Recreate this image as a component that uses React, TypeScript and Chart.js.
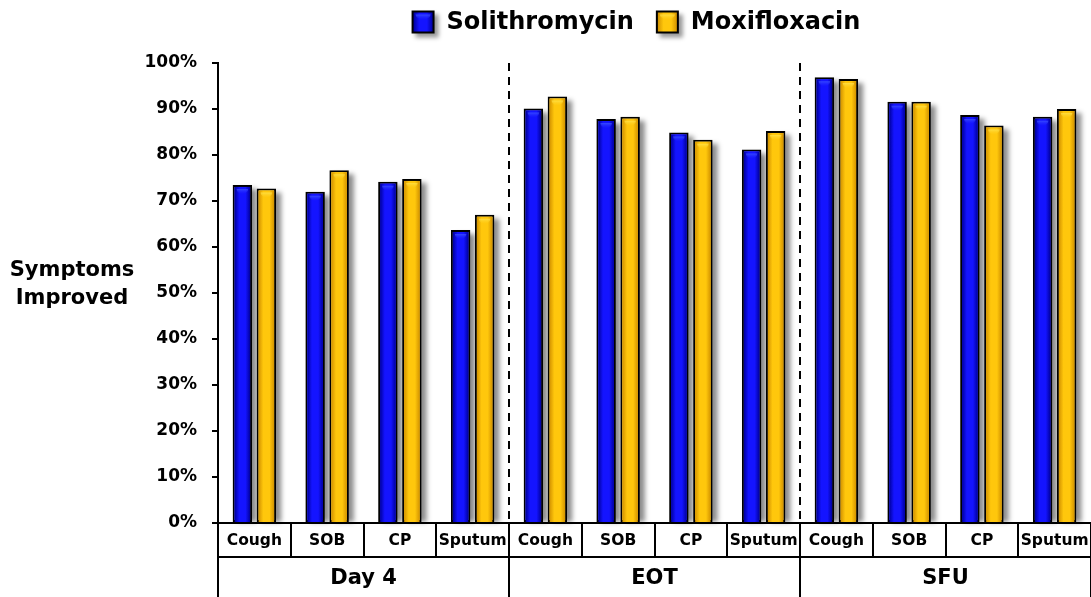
import React, { useEffect, useRef } from 'react';
import { Chart, registerables } from 'chart.js';

Chart.register(...registerables);

const categories = ['Cough', 'SOB', 'CP', 'Sputum', 'Cough', 'SOB', 'CP', 'Sputum', 'Cough', 'SOB', 'CP', 'Sputum'];
const groups = ['Day 4', 'EOT', 'SFU'];
const groupSize = 4;
const seriesNames = ['Solithromycin', 'Moxifloxacin'];
const solithromycin = [73.5, 72.0, 74.2, 63.7, 90.1, 87.8, 84.9, 81.2, 96.9, 91.6, 88.7, 88.3];
const moxifloxacin = [72.7, 76.7, 74.8, 67.0, 92.7, 88.3, 83.3, 85.2, 96.5, 91.6, 86.4, 90.0];
const yAxisTitle = ['Symptoms', 'Improved'];
const yMin = 0;
const yMax = 100;
const yStep = 10;

const FONT = '"DejaVu Sans", "Liberation Sans", sans-serif';

const palettes = [
  { base: '#0000f2', dark: '#0000a0', light: '#1414ff', hi: '#5070ff' },
  { base: '#ffc000', dark: '#d49400', light: '#ffc70c', hi: '#fff06a' },
];

function fillBarGradient(ctx: CanvasRenderingContext2D, l: number, t: number, w: number, h: number, p: any) {
  if (w <= 0 || h <= 0) return;
  const g = ctx.createLinearGradient(l, 0, l + w, 0);
  g.addColorStop(0, p.dark);
  g.addColorStop(0.3, p.light);
  g.addColorStop(0.7, p.light);
  g.addColorStop(1, p.dark);
  ctx.fillStyle = g;
  ctx.fillRect(l, t, w, h);
  // top bevel highlight
  const hg = ctx.createLinearGradient(0, t, 0, t + 8);
  hg.addColorStop(0, p.hi);
  hg.addColorStop(1, p.light + '00');
  ctx.fillStyle = hg;
  ctx.beginPath();
  ctx.ellipse(l + w / 2, t + 2, Math.max(w / 2 - 2, 1), 5, 0, 0, Math.PI);
  ctx.fill();
}

const shadowPlugin = {
  id: 'barShadow',
  beforeDatasetsDraw(chart: any) {
    const { ctx } = chart;
    ctx.save();
    ctx.filter = 'blur(2.5px)';
    ctx.fillStyle = 'rgba(0,0,0,0.45)';
    chart.data.datasets.forEach((_: any, di: number) => {
      const meta = chart.getDatasetMeta(di);
      meta.data.forEach((el: any) => {
        const { x, y, base, width } = el.getProps(['x', 'y', 'base', 'width'], true);
        ctx.fillRect(x - width / 2 + 5, y + 4, width, base - y - 4);
      });
    });
    ctx.restore();
  },
  afterDatasetsDraw(chart: any) {
    const { ctx } = chart;
    ctx.save();
    chart.data.datasets.forEach((_: any, di: number) => {
      const meta = chart.getDatasetMeta(di);
      const p = palettes[di];
      meta.data.forEach((el: any) => {
        const { x, y, base, width } = el.getProps(['x', 'y', 'base', 'width'], true);
        const b = 2;
        fillBarGradient(ctx, x - width / 2 + b, y + b, width - 2 * b, base - y - b, p);
      });
    });
    ctx.restore();
  },
};

const decorPlugin = {
  id: 'decor',
  afterDraw(chart: any) {
    const { ctx } = chart;
    const { left, right, top, bottom } = chart.chartArea;
    const xs = chart.scales.x;
    const step = xs.getPixelForValue(1) - xs.getPixelForValue(0);
    const edge = (i: number) => xs.getPixelForValue(0) - step / 2 + i * step;
    const row1 = bottom + 34;
    const row2 = chart.height;
    ctx.save();
    ctx.strokeStyle = '#000';
    ctx.lineWidth = 2;
    // dashed separators between groups
    ctx.setLineDash([8, 6]);
    for (let g = 1; g < groups.length; g++) {
      const xx = Math.round(edge(g * groupSize));
      ctx.beginPath();
      ctx.moveTo(xx, top);
      ctx.lineTo(xx, bottom);
      ctx.stroke();
    }
    ctx.setLineDash([]);
    // horizontal lines
    ctx.beginPath();
    ctx.moveTo(left, bottom);
    ctx.lineTo(right + 2, bottom);
    ctx.moveTo(left, row1);
    ctx.lineTo(right + 2, row1);
    ctx.stroke();
    // category row verticals
    ctx.beginPath();
    for (let i = 0; i <= categories.length; i++) {
      const xx = Math.round(edge(i));
      ctx.moveTo(xx, bottom);
      ctx.lineTo(xx, row1);
    }
    for (let g = 0; g <= groups.length; g++) {
      const xx = Math.round(edge(g * groupSize));
      ctx.moveTo(xx, row1);
      ctx.lineTo(xx, row2);
    }
    ctx.stroke();
    // category labels
    ctx.fillStyle = '#000';
    ctx.textAlign = 'center';
    ctx.textBaseline = 'middle';
    ctx.font = `bold 15.5px ${FONT}`;
    categories.forEach((c, i) => {
      ctx.fillText(c, xs.getPixelForValue(i), (bottom + row1) / 2 + 1);
    });
    ctx.font = `bold 21px ${FONT}`;
    groups.forEach((g, gi) => {
      const cx = (edge(gi * groupSize) + edge((gi + 1) * groupSize)) / 2;
      ctx.fillText(g, cx, (row1 + row2) / 2 + 2);
    });
    // y axis title
    ctx.font = `bold 21px ${FONT}`;
    yAxisTitle.forEach((t, i) => {
      ctx.fillText(t, 72, 271 + i * 28);
    });
    // legend
    ctx.font = `bold 24px ${FONT}`;
    const box = 23;
    const gapBoxText = 12;
    const gapItems = 22;
    const widths = seriesNames.map((s) => ctx.measureText(s).width);
    const total = widths.reduce((a, w) => a + box + gapBoxText + w, 0) + gapItems * (seriesNames.length - 1);
    let lx = 636 - total / 2;
    const ly = 22;
    ctx.textAlign = 'left';
    seriesNames.forEach((s, i) => {
      const p = palettes[i];
      ctx.save();
      ctx.filter = 'blur(2px)';
      ctx.fillStyle = 'rgba(0,0,0,0.4)';
      ctx.fillRect(lx + 4, ly - box / 2 + 4, box, box);
      ctx.restore();
      ctx.fillStyle = '#000';
      ctx.fillRect(lx, ly - box / 2, box, box);
      fillBarGradient(ctx, lx + 2, ly - box / 2 + 2, box - 4, box - 4, p);
      ctx.fillStyle = '#000';
      ctx.fillText(s, lx + box + gapBoxText, ly + 1);
      lx += box + gapBoxText + widths[i] + gapItems;
    });
    ctx.restore();
  },
};

export default function App() {
  const ref = useRef<HTMLCanvasElement | null>(null);
  useEffect(() => {
    document.body.style.margin = '0';
    const canvas = ref.current;
    if (!canvas) return;
    const chart = new Chart(canvas, {
      type: 'bar',
      data: {
        labels: categories,
        datasets: [
          {
            label: seriesNames[0],
            data: solithromycin,
            backgroundColor: palettes[0].base,
            borderColor: '#000',
            borderWidth: 2,
            borderSkipped: false,
            categoryPercentage: 0.66,
            barPercentage: 0.81,
          },
          {
            label: seriesNames[1],
            data: moxifloxacin,
            backgroundColor: palettes[1].base,
            borderColor: '#000',
            borderWidth: 2,
            borderSkipped: false,
            categoryPercentage: 0.66,
            barPercentage: 0.81,
          },
        ],
      },
      options: {
        responsive: false,
        animation: false,
        layout: { padding: { top: 63, bottom: 74, left: 0, right: 0 } },
        plugins: { legend: { display: false }, tooltip: { enabled: false } },
        scales: {
          x: { display: false },
          y: {
            min: yMin,
            max: yMax,
            afterFit: (scale: any) => {
              scale.width = 218;
            },
            ticks: {
              stepSize: yStep,
              padding: 15,
              color: '#000',
              font: { family: FONT, size: 17, weight: 'bold' },
              callback: (v: any) => `${v}%`,
            },
            grid: {
              drawOnChartArea: false,
              drawTicks: true,
              tickLength: 6,
              color: '#000',
              lineWidth: 2,
            },
            border: { display: true, color: '#000', width: 2 },
          },
        },
      },
      plugins: [shadowPlugin, decorPlugin],
    });
    return () => chart.destroy();
  }, []);
  return (
    <div style={{ width: 1091, height: 597, overflow: 'hidden' }}>
      <canvas ref={ref} width={1091} height={597} />
    </div>
  );
}
